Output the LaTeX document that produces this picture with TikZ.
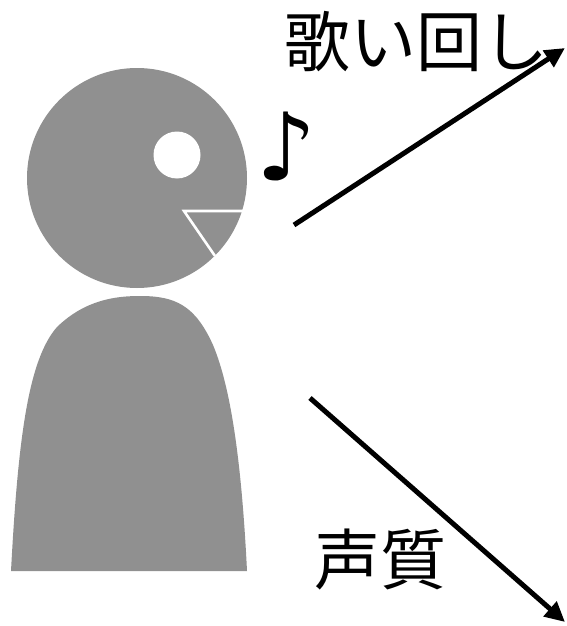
\documentclass[tikz,border=0pt]{standalone}
\usepackage{fontspec}
\newfontfamily\jpfont{Noto Sans CJK JP}
\newfontfamily\symfont{DejaVu Sans}
\usetikzlibrary{arrows.meta}
\definecolor{figgray}{RGB}{144,144,144}
\tikzset{
  figure/.style={fill=figgray, draw=none},
  whiteline/.style={draw=white, line width=2.6pt, line cap=butt},
  label/.style={font=\jpfont\fontsize{66}{70}\selectfont, inner sep=0pt, text=black},
  voice/.style={line width=5pt, -{Triangle[length=20pt,width=19pt]}}
}
\begin{document}
\begin{tikzpicture}[x=1pt, y=-1pt]
\useasboundingbox (0,0) rectangle (566,626);

% head with eye
\fill[figure] (137,178) circle[radius=110];
\fill[white] (177,155) circle[radius=23.5];
% open mouth
\draw[whiteline] (246,211) -- (184,211) -- (215,256);

% body
\fill[figure] (11,571) .. controls (18,440) and (28,360) .. (57,327)
  .. controls (85,300) and (115,296) .. (140,296)
  .. controls (175,296) and (195,305) .. (213,345)
  .. controls (232,390) and (242,470) .. (247,571) -- cycle;

% note
\node[label, font=\symfont\fontsize{94}{98}\selectfont, anchor=base] (note) at (286,180) {♪};

% voice arrows
\coordinate (mouthA) at (294,225);
\coordinate (tipA) at (565,48);
\coordinate (mouthB) at (310,398);
\coordinate (tipB) at (565,622);
\draw[voice] (mouthA) -- (tipA);
\draw[voice] (mouthB) -- (tipB);

% labels
\node[label] (phrasing) at (416,42) {歌い回し};
\node[label] (timbre) at (380,560) {声質};
\end{tikzpicture}
\end{document}
